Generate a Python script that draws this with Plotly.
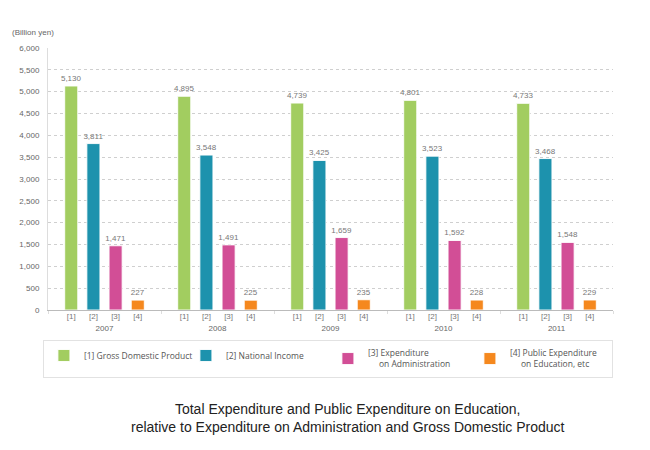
import plotly.graph_objects as go

years = ["2007", "2008", "2009", "2010", "2011"]
codes = ["[1]", "[2]", "[3]", "[4]"]
series_names = [
    "[1] Gross Domestic Product",
    "[2] National Income",
    "[3] Expenditure<br>&nbsp;&nbsp;&nbsp;&nbsp;&nbsp;on Administration",
    "[4] Public Expenditure<br>&nbsp;&nbsp;&nbsp;&nbsp;&nbsp;on Education, etc",
]
gdp = [5130, 4895, 4739, 4801, 4733]
national_income = [3811, 3548, 3425, 3523, 3468]
admin_exp = [1471, 1491, 1659, 1592, 1548]
edu_exp = [227, 225, 235, 228, 229]
y_ticks = list(range(0, 6001, 500))

series_values = [gdp, national_income, admin_exp, edu_exp]
colors = ["#a2cd60", "#1d92ad", "#d24e96", "#f5881e"]

bargap = 0.215
bargroupgap = 0.41
slot = (1 - bargap) / len(codes)

fig = go.Figure()
for name, vals, col in zip(series_names, series_values, colors):
    fig.add_trace(go.Bar(
        x=years, y=vals, name=name,
        marker=dict(color=col, line=dict(color="rgba(255,255,255,0.9)", width=1)),
        text=vals, texttemplate="%{y:,.0f}", textposition="outside",
        constraintext="none",
        textfont=dict(size=8, color="#777", family="Liberation Sans"),
        cliponaxis=False, hoverinfo="skip",
    ))

code_pos = [i + (k - (len(codes) - 1) / 2) * slot for i in range(len(years)) for k in range(len(codes))]
code_text = codes * len(years)

# invisible helper trace so the secondary (bar-code) axis is drawn
fig.add_trace(go.Scatter(
    x=code_pos, y=[0] * len(code_pos), xaxis="x2", yaxis="y",
    mode="markers", marker=dict(opacity=0, size=1),
    showlegend=False, hoverinfo="skip",
))

fig.update_layout(
    width=642, height=442,
    margin=dict(l=40, r=37, t=40, b=140, autoexpand=False),
    paper_bgcolor="white", plot_bgcolor="white",
    barmode="group", bargap=bargap, bargroupgap=bargroupgap,
    font=dict(family="Liberation Sans", size=8, color="#666"),
    xaxis=dict(
        type="category", showline=True, linecolor="#bbb", linewidth=1,
        ticks="outside", tickson="boundaries", ticklen=3, tickcolor="#ddd",
        tickfont=dict(size=8, color="#666"), ticklabelstandoff=10,
        showgrid=False, fixedrange=True,
    ),
    xaxis2=dict(
        overlaying="x", anchor="y", side="bottom", range=[-0.5, len(years) - 0.5],
        tickmode="array", tickvals=code_pos, ticktext=code_text,
        showline=False, showgrid=False, zeroline=False, ticks="",
        tickfont=dict(size=8, color="#777"),
    ),
    yaxis=dict(
        range=[0, 6000], tickvals=y_ticks, tickformat=",", showline=True,
        linecolor="#ddd", linewidth=1, showgrid=True, gridcolor="#cfcfcf",
        griddash="3px,3px", gridwidth=1, zeroline=False, ticks="",
        tickfont=dict(size=8, color="#666"), ticklabelstandoff=6,
    ),
    legend=dict(
        orientation="h", x=-0.009, y=-0.1145, xanchor="left", yanchor="top",
        entrywidth=97, entrywidthmode="pixels",
        bgcolor="white", bordercolor="#e2e2e2", borderwidth=1,
        font=dict(family="Open Sans", size=8.5, color="#555"),
        valign="middle", traceorder="normal",
    ),
    showlegend=True,
    annotations=[
        dict(text="(Billion yen)", xref="paper", yref="paper", x=-0.067, y=1.061,
             xanchor="left", yanchor="middle", showarrow=False,
             font=dict(size=8, color="#666")),
        dict(text="Total Expenditure and Public Expenditure on Education,<br>"
                  "relative to Expenditure on Administration and Gross Domestic Product",
             xref="paper", yref="paper", x=0.531, y=-0.414, xanchor="center",
             yanchor="middle", showarrow=False, align="center",
             font=dict(size=14, color="#222", family="Liberation Sans")),
    ],
)

fig.write_html("out.html")
